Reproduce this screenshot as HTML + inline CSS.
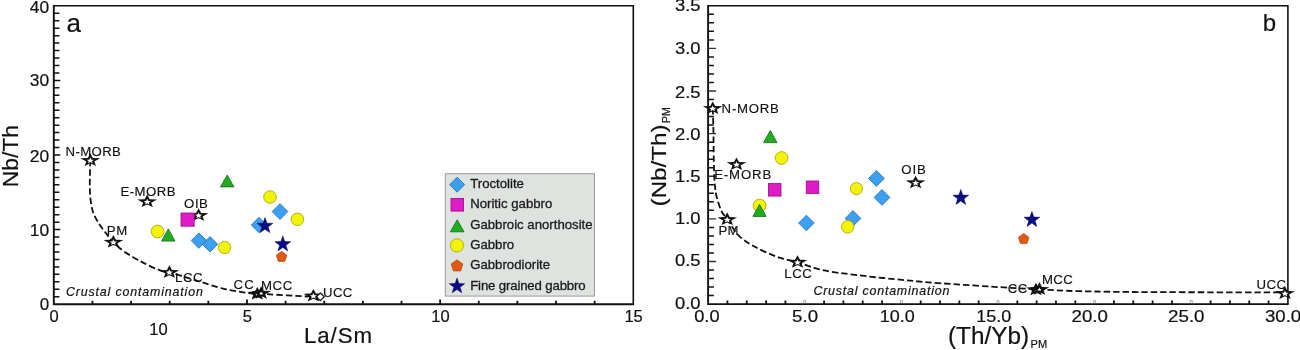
<!DOCTYPE html>
<html><head><meta charset="utf-8"><style>
html,body{margin:0;padding:0;background:#fff;}
body{width:1300px;height:350px;overflow:hidden;font-family:"Liberation Sans",sans-serif;}
svg{display:block;will-change:transform;}
</style></head><body>
<svg width="1300" height="350" viewBox="0 0 1300 350" font-family="Liberation Sans, sans-serif">
<rect width="1300" height="350" fill="#fff"/>
<path d="M53.8,5.8 H633.3 V304.2" fill="none" stroke="#111" stroke-width="1.6"/>
<path d="M53.8,5.1 V304.2 H634.1" fill="none" stroke="#111" stroke-width="1.9"/>
<path d="M53.8,296.74 h5.6 M53.8,289.28 h5.6 M53.8,281.82 h5.6 M53.8,274.36 h5.6 M53.8,266.9 h5.6 M53.8,259.44 h5.6 M53.8,251.98 h5.6 M53.8,244.52 h5.6 M53.8,237.06 h5.6 M53.8,229.6 h6.5 M53.8,222.14 h5.6 M53.8,214.68 h5.6 M53.8,207.22 h5.6 M53.8,199.76 h5.6 M53.8,192.3 h5.6 M53.8,184.84 h5.6 M53.8,177.38 h5.6 M53.8,169.92 h5.6 M53.8,162.46 h5.6 M53.8,155 h6.5 M53.8,147.54 h5.6 M53.8,140.08 h5.6 M53.8,132.62 h5.6 M53.8,125.16 h5.6 M53.8,117.7 h5.6 M53.8,110.24 h5.6 M53.8,102.78 h5.6 M53.8,95.32 h5.6 M53.8,87.86 h5.6 M53.8,80.4 h6.5 M53.8,72.94 h5.6 M53.8,65.48 h5.6 M53.8,58.02 h5.6 M53.8,50.56 h5.6 M53.8,43.1 h5.6 M53.8,35.64 h5.6 M53.8,28.18 h5.6 M53.8,20.72 h5.6 M53.8,13.26 h5.6" stroke="#111" stroke-width="1.5"/>
<path d="M92.43,304.2 v-3.5 M131.07,304.2 v-3.5 M169.7,304.2 v-3.5 M208.33,304.2 v-3.5 M246.97,304.2 v-4.6 M285.6,304.2 v-3.5 M324.23,304.2 v-3.5 M362.87,304.2 v-3.5 M401.5,304.2 v-3.5 M440.13,304.2 v-4.6 M478.77,304.2 v-3.5 M517.4,304.2 v-3.5 M556.03,304.2 v-3.5 M594.67,304.2 v-3.5" stroke="#111" stroke-width="1.8"/>
<text x="49.2" y="12.9" font-size="17" text-anchor="end" textLength="19.4" lengthAdjust="spacingAndGlyphs" fill="#111" stroke="#111" stroke-width="0.2">40</text>
<text x="49.2" y="86.2" font-size="17" text-anchor="end" textLength="19.4" lengthAdjust="spacingAndGlyphs" fill="#111" stroke="#111" stroke-width="0.2">30</text>
<text x="49.2" y="161.7" font-size="17" text-anchor="end" textLength="19.4" lengthAdjust="spacingAndGlyphs" fill="#111" stroke="#111" stroke-width="0.2">20</text>
<text x="49.2" y="235.8" font-size="17" text-anchor="end" textLength="19.4" lengthAdjust="spacingAndGlyphs" fill="#111" stroke="#111" stroke-width="0.2">10</text>
<text x="49.2" y="309.9" font-size="17" text-anchor="end" fill="#111" stroke="#111" stroke-width="0.2">0</text>
<text x="54.1" y="321.8" font-size="16.5" text-anchor="middle" fill="#111" stroke="#111" stroke-width="0.2">0</text>
<text x="247.27" y="321.8" font-size="16.5" text-anchor="middle" fill="#111" stroke="#111" stroke-width="0.2">5</text>
<text x="440.43" y="321.8" font-size="16.5" text-anchor="middle" fill="#111" stroke="#111" stroke-width="0.2">10</text>
<text x="633.6" y="321.8" font-size="16.5" text-anchor="middle" fill="#111" stroke="#111" stroke-width="0.2">15</text>
<text x="158.4" y="334.8" font-size="16.5" text-anchor="middle" fill="#111" stroke="#111" stroke-width="0.2">10</text>
<text x="303.9" y="343.1" font-size="22.3" textLength="68.2" lengthAdjust="spacing" fill="#111" stroke="#111" stroke-width="0.2">La/Sm</text>
<text transform="translate(18.2,187.2) rotate(-90)" font-size="21.5" fill="#111" stroke="#111" stroke-width="0.2" textLength="62.2" lengthAdjust="spacingAndGlyphs">Nb/Th</text>
<text x="66.6" y="31.8" font-size="26" fill="#111" stroke="#111" stroke-width="0.2">a</text>
<path d="M90.3,160 C90.22,164.17 89.75,178.33 89.8,185 C89.85,191.67 90.07,195.5 90.6,200 C91.13,204.5 91.77,208.33 93,212 C94.23,215.67 96,218.67 98,222 C100,225.33 102.43,228.67 105,232 C107.57,235.33 110.23,238.77 113.4,242 C116.57,245.23 119.07,247.97 124,251.4 C128.93,254.83 137,259.45 143,262.6 C149,265.75 155.6,268.68 160,270.3 C164.4,271.92 165.07,271.13 169.4,272.3 C173.73,273.47 180.57,275.63 186,277.3 C191.43,278.97 195.83,280.42 202,282.3 C208.17,284.18 215.83,286.88 223,288.6 C230.17,290.32 239.33,291.77 245,292.6 C250.67,293.43 252.83,293.3 257,293.6 C261.17,293.9 262.58,293.98 270,294.4 C277.42,294.82 293.17,295.67 301.5,296.1 C309.83,296.53 316.92,296.85 320,297" fill="none" stroke="#111" stroke-width="1.8" stroke-dasharray="6.4,3"/>
<polygon points="90.3,153.4 92.8,158 100.2,158.3 94.3,161.5 96,165.9 90.3,163.3 84.6,165.9 86.3,161.5 80.4,158.3 87.8,158" fill="#111"/>
<polygon points="90.3,157.6 91.35,159.7 93.9,159.85 91.9,161.2 92.6,163.3 90.3,162.1 88,163.3 88.7,161.2 86.7,159.85 89.25,159.7" fill="#fff"/>
<polygon points="147.2,194.6 149.7,199.2 157.1,199.5 151.2,202.7 152.9,207.1 147.2,204.5 141.5,207.1 143.2,202.7 137.3,199.5 144.7,199.2" fill="#111"/>
<polygon points="147.2,198.8 148.25,200.9 150.8,201.05 148.8,202.4 149.5,204.5 147.2,203.3 144.9,204.5 145.6,202.4 143.6,201.05 146.15,200.9" fill="#fff"/>
<polygon points="113.4,235.1 115.9,239.7 123.3,240 117.4,243.2 119.1,247.6 113.4,245 107.7,247.6 109.4,243.2 103.5,240 110.9,239.7" fill="#111"/>
<polygon points="113.4,239.3 114.45,241.4 117,241.55 115,242.9 115.7,245 113.4,243.8 111.1,245 111.8,242.9 109.8,241.55 112.35,241.4" fill="#fff"/>
<polygon points="169.4,265.3 171.9,269.9 179.3,270.2 173.4,273.4 175.1,277.8 169.4,275.2 163.7,277.8 165.4,273.4 159.5,270.2 166.9,269.9" fill="#111"/>
<polygon points="169.4,269.5 170.45,271.6 173,271.75 171,273.1 171.7,275.2 169.4,274 167.1,275.2 167.8,273.1 165.8,271.75 168.35,271.6" fill="#fff"/>
<polygon points="257.3,287 259.8,291.6 267.2,291.9 261.3,295.1 263,299.5 257.3,296.9 251.6,299.5 253.3,295.1 247.4,291.9 254.8,291.6" fill="#111"/>
<polygon points="257.3,292.4 257.93,293.66 259.46,293.75 258.26,294.56 258.68,295.82 257.3,295.1 255.92,295.82 256.34,294.56 255.14,293.75 256.67,293.66" fill="#fff"/>
<polygon points="261.2,286.2 263.7,290.8 271.1,291.1 265.2,294.3 266.9,298.7 261.2,296.1 255.5,298.7 257.2,294.3 251.3,291.1 258.7,290.8" fill="#111"/>
<polygon points="261.2,291.6 261.83,292.86 263.36,292.95 262.16,293.76 262.58,295.02 261.2,294.3 259.82,295.02 260.24,293.76 259.04,292.95 260.57,292.86" fill="#fff"/>
<polygon points="313.4,288.9 315.9,293.5 323.3,293.8 317.4,297 319.1,301.4 313.4,298.8 307.7,301.4 309.4,297 303.5,293.8 310.9,293.5" fill="#111"/>
<polygon points="313.4,293.1 314.45,295.2 317,295.35 315,296.7 315.7,298.8 313.4,297.6 311.1,298.8 311.8,296.7 309.8,295.35 312.35,295.2" fill="#fff"/>
<polygon points="316.4,296.7 320.3,293.1 324.2,296.7 320.3,300.6" fill="#fff" stroke="#111" stroke-width="1.2"/>
<polygon points="198.6,208.3 201.1,212.9 208.5,213.2 202.6,216.4 204.3,220.8 198.6,218.2 192.9,220.8 194.6,216.4 188.7,213.2 196.1,212.9" fill="#111"/>
<polygon points="198.6,212.5 199.65,214.6 202.2,214.75 200.2,216.1 200.9,218.2 198.6,217 196.3,218.2 197,216.1 195,214.75 197.55,214.6" fill="#fff"/>
<text x="65.5" y="155.8" font-size="13.2" textLength="55.4" lengthAdjust="spacing" fill="#111" stroke="#111" stroke-width="0.15">N-MORB</text>
<text x="120.4" y="196.1" font-size="13.2" textLength="55.2" lengthAdjust="spacing" fill="#111" stroke="#111" stroke-width="0.15">E-MORB</text>
<text x="184.1" y="207.7" font-size="13.2" textLength="23.8" lengthAdjust="spacing" fill="#111" stroke="#111" stroke-width="0.15">OIB</text>
<text x="106.7" y="234.6" font-size="13.2" textLength="20.6" lengthAdjust="spacing" fill="#111" stroke="#111" stroke-width="0.15">PM</text>
<text x="174.9" y="281.8" font-size="13.2" textLength="27.7" lengthAdjust="spacing" fill="#111" stroke="#111" stroke-width="0.15">LCC</text>
<text x="233.6" y="289.3" font-size="13.2" textLength="20.1" lengthAdjust="spacing" fill="#111" stroke="#111" stroke-width="0.15">CC</text>
<text x="261.1" y="289.8" font-size="13.2" textLength="31.1" lengthAdjust="spacing" fill="#111" stroke="#111" stroke-width="0.15">MCC</text>
<text x="323.1" y="296.8" font-size="13.2" textLength="29.2" lengthAdjust="spacing" fill="#111" stroke="#111" stroke-width="0.15">UCC</text>
<text x="65.9" y="296" font-size="12.4" textLength="136.9" lengthAdjust="spacing" font-style="italic" fill="#111" stroke="#111" stroke-width="0.2">Crustal contamination</text>
<rect x="181" y="213" width="13.2" height="13.2" fill="#e01cc6" stroke="#9a0a86" stroke-width="0.8"/>
<polygon points="227.2,175.1 233.95,186.9 220.45,186.9" fill="#21ad21" stroke="#0e6a0e" stroke-width="0.8"/>
<polygon points="168.3,228.9 175,241.1 161.6,241.1" fill="#21ad21" stroke="#0e6a0e" stroke-width="0.8"/>
<circle cx="157.6" cy="231.5" r="6.4" fill="#f3f30a" stroke="#a3a000" stroke-width="0.8"/>
<circle cx="224.6" cy="247.5" r="6.2" fill="#f3f30a" stroke="#a3a000" stroke-width="0.8"/>
<circle cx="270" cy="197" r="6.3" fill="#f3f30a" stroke="#a3a000" stroke-width="0.8"/>
<circle cx="297.4" cy="219.3" r="6.3" fill="#f3f30a" stroke="#a3a000" stroke-width="0.8"/>
<polygon points="191.2,240.6 198.9,232.9 206.6,240.6 198.9,248.3" fill="#3c9ff0" stroke="#1d6db5" stroke-width="0.8"/>
<polygon points="202.3,244.3 210,236.6 217.7,244.3 210,252" fill="#3c9ff0" stroke="#1d6db5" stroke-width="0.8"/>
<polygon points="272.1,211.6 280,203.7 287.9,211.6 280,219.5" fill="#3c9ff0" stroke="#1d6db5" stroke-width="0.8"/>
<polygon points="251.3,225 259,217.3 266.7,225 259,232.7" fill="#3c9ff0" stroke="#1d6db5" stroke-width="0.8"/>
<polygon points="265,217.6 266.95,223.21 272.89,223.34 268.16,226.93 269.88,232.61 265,229.22 260.12,232.61 261.84,226.93 257.11,223.34 263.05,223.21" fill="#0b0b86" stroke="#02024a" stroke-width="0.5"/>
<polygon points="282.8,235.9 284.75,241.51 290.69,241.64 285.96,245.23 287.68,250.91 282.8,247.52 277.92,250.91 279.64,245.23 274.91,241.64 280.85,241.51" fill="#0b0b86" stroke="#02024a" stroke-width="0.5"/>
<polygon points="281.6,251.3 286.93,255.17 284.89,261.43 278.31,261.43 276.27,255.17" fill="#e25a12" stroke="#a5400c" stroke-width="0.6"/>
<rect x="445.3" y="173.7" width="149.2" height="122.4" fill="#dfe3e0" stroke="#9a9a9a" stroke-width="1"/>
<polygon points="449.6,184.7 457.1,177.2 464.6,184.7 457.1,192.2" fill="#3c9ff0" stroke="#1d6db5" stroke-width="0.8"/>
<rect x="451" y="198.5" width="12.6" height="12.6" fill="#e01cc6" stroke="#9a0a86" stroke-width="0.8"/>
<polygon points="457.2,219.8 464,231.8 450.4,231.8" fill="#21ad21" stroke="#0e6a0e" stroke-width="0.8"/>
<circle cx="457" cy="245.4" r="6.6" fill="#f3f30a" stroke="#a3a000" stroke-width="0.8"/>
<polygon points="457,259.8 462.9,264.08 460.64,271.02 453.36,271.02 451.1,264.08" fill="#e25a12" stroke="#a5400c" stroke-width="0.6"/>
<polygon points="457,278.1 458.9,283.58 464.7,283.7 460.08,287.2 461.76,292.75 457,289.44 452.24,292.75 453.92,287.2 449.3,283.7 455.1,283.58" fill="#0b0b86" stroke="#02024a" stroke-width="0.5"/>
<text x="470.2" y="187.8" font-size="13.2" fill="#1a1a1a" stroke="#1a1a1a" stroke-width="0.3">Troctolite</text>
<text x="470.2" y="208.17" font-size="13.2" fill="#1a1a1a" stroke="#1a1a1a" stroke-width="0.3">Noritic gabbro</text>
<text x="470.2" y="228.54" font-size="13.2" fill="#1a1a1a" stroke="#1a1a1a" stroke-width="0.3">Gabbroic anorthosite</text>
<text x="470.2" y="248.91" font-size="13.2" fill="#1a1a1a" stroke="#1a1a1a" stroke-width="0.3">Gabbro</text>
<text x="470.2" y="269.28" font-size="13.2" fill="#1a1a1a" stroke="#1a1a1a" stroke-width="0.3">Gabbrodiorite</text>
<text x="470.2" y="289.65" font-size="13.2" textLength="115.4" lengthAdjust="spacing" fill="#1a1a1a" stroke="#1a1a1a" stroke-width="0.3">Fine grained gabbro</text>
<path d="M708.1,5.8 H1287.9 V304.1" fill="none" stroke="#111" stroke-width="1.6"/>
<path d="M708.1,5.1 V304.1 H1288.7" fill="none" stroke="#111" stroke-width="1.9"/>
<path d="M708.1,295.58 h5.8 M708.1,287.05 h5.8 M708.1,278.53 h5.8 M708.1,270.01 h5.8 M708.1,252.96 h5.8 M708.1,244.44 h5.8 M708.1,235.92 h5.8 M708.1,227.39 h5.8 M708.1,210.35 h5.8 M708.1,201.83 h5.8 M708.1,193.3 h5.8 M708.1,184.78 h5.8 M708.1,167.73 h5.8 M708.1,159.21 h5.8 M708.1,150.69 h5.8 M708.1,142.17 h5.8 M708.1,125.12 h5.8 M708.1,116.6 h5.8 M708.1,108.07 h5.8 M708.1,99.55 h5.8 M708.1,82.51 h5.8 M708.1,73.98 h5.8 M708.1,65.46 h5.8 M708.1,56.94 h5.8 M708.1,39.89 h5.8 M708.1,31.37 h5.8 M708.1,22.85 h5.8 M708.1,14.32 h5.8" stroke="#111" stroke-width="1.5"/>
<path d="M708.1,261.49 h8 M708.1,218.87 h8 M708.1,176.26 h8 M708.1,133.64 h8 M708.1,91.03 h8 M708.1,48.41 h8" stroke="#333" stroke-width="1.4"/>
<path d="M727.43,304.1 v-3.6 M746.75,304.1 v-3.6 M766.08,304.1 v-3.6 M785.41,304.1 v-3.6 M824.06,304.1 v-3.6 M843.39,304.1 v-3.6 M862.71,304.1 v-3.6 M882.04,304.1 v-3.6 M920.69,304.1 v-3.6 M940.02,304.1 v-3.6 M959.35,304.1 v-3.6 M978.67,304.1 v-3.6 M1017.33,304.1 v-3.6 M1036.65,304.1 v-3.6 M1055.98,304.1 v-3.6 M1075.31,304.1 v-3.6 M1113.96,304.1 v-3.6 M1133.29,304.1 v-3.6 M1152.61,304.1 v-3.6 M1171.94,304.1 v-3.6 M1210.59,304.1 v-3.6 M1229.92,304.1 v-3.6 M1249.25,304.1 v-3.6 M1268.57,304.1 v-3.6" stroke="#111" stroke-width="1.8"/>
<path d="M803.73,303.1 v-2.6 h2 v2.6 M900.37,303.1 v-2.6 h2 v2.6 M997,303.1 v-2.6 h2 v2.6 M1093.63,303.1 v-2.6 h2 v2.6 M1190.27,303.1 v-2.6 h2 v2.6" fill="none" stroke="#888" stroke-width="0.7"/>
<text x="700.6" y="308.8" font-size="17" text-anchor="end" textLength="25.6" lengthAdjust="spacingAndGlyphs" fill="#111" stroke="#111" stroke-width="0.2">0.0</text>
<text x="700.6" y="265.9" font-size="17" text-anchor="end" textLength="25.6" lengthAdjust="spacingAndGlyphs" fill="#111" stroke="#111" stroke-width="0.2">0.5</text>
<text x="700.6" y="224.1" font-size="17" text-anchor="end" textLength="25.6" lengthAdjust="spacingAndGlyphs" fill="#111" stroke="#111" stroke-width="0.2">1.0</text>
<text x="700.6" y="182.2" font-size="17" text-anchor="end" textLength="25.6" lengthAdjust="spacingAndGlyphs" fill="#111" stroke="#111" stroke-width="0.2">1.5</text>
<text x="700.6" y="140.2" font-size="17" text-anchor="end" textLength="25.6" lengthAdjust="spacingAndGlyphs" fill="#111" stroke="#111" stroke-width="0.2">2.0</text>
<text x="700.6" y="97.5" font-size="17" text-anchor="end" textLength="25.6" lengthAdjust="spacingAndGlyphs" fill="#111" stroke="#111" stroke-width="0.2">2.5</text>
<text x="700.6" y="54.4" font-size="17" text-anchor="end" textLength="25.6" lengthAdjust="spacingAndGlyphs" fill="#111" stroke="#111" stroke-width="0.2">3.0</text>
<text x="700.6" y="11.2" font-size="17" text-anchor="end" textLength="25.6" lengthAdjust="spacingAndGlyphs" fill="#111" stroke="#111" stroke-width="0.2">3.5</text>
<text x="719.6" y="321.9" font-size="16.5" text-anchor="end" textLength="25.4" lengthAdjust="spacingAndGlyphs" fill="#111" stroke="#111" stroke-width="0.2">0.0</text>
<text x="818.03" y="321.9" font-size="16.5" text-anchor="end" textLength="25.9" lengthAdjust="spacingAndGlyphs" fill="#111" stroke="#111" stroke-width="0.2">5.0</text>
<text x="914.67" y="321.9" font-size="16.5" text-anchor="end" textLength="35" lengthAdjust="spacingAndGlyphs" fill="#111" stroke="#111" stroke-width="0.2">10.0</text>
<text x="1011.3" y="321.9" font-size="16.5" text-anchor="end" textLength="35" lengthAdjust="spacingAndGlyphs" fill="#111" stroke="#111" stroke-width="0.2">15.0</text>
<text x="1107.93" y="321.9" font-size="16.5" text-anchor="end" textLength="36.4" lengthAdjust="spacingAndGlyphs" fill="#111" stroke="#111" stroke-width="0.2">20.0</text>
<text x="1204.57" y="321.9" font-size="16.5" text-anchor="end" textLength="36.5" lengthAdjust="spacingAndGlyphs" fill="#111" stroke="#111" stroke-width="0.2">25.0</text>
<text x="1301.2" y="321.9" font-size="16.5" text-anchor="end" textLength="36.3" lengthAdjust="spacingAndGlyphs" fill="#111" stroke="#111" stroke-width="0.2">30.0</text>
<text x="948" y="343.8" font-size="23.5" textLength="81" lengthAdjust="spacingAndGlyphs" fill="#111" stroke="#111" stroke-width="0.2">(Th/Yb)</text>
<text x="1030.5" y="347.7" font-size="11" textLength="16.6" lengthAdjust="spacingAndGlyphs" fill="#111" stroke="#111" stroke-width="0.2">PM</text>
<text transform="translate(665.6,206.4) rotate(-90)" font-size="21" fill="#111" stroke="#111" stroke-width="0.2" textLength="82" lengthAdjust="spacingAndGlyphs">(Nb/Th)</text>
<text transform="translate(670.2,123) rotate(-90)" font-size="11.5" fill="#111" stroke="#111" stroke-width="0.15" textLength="16" lengthAdjust="spacingAndGlyphs">PM</text>
<text x="1262.8" y="31.2" font-size="24" fill="#111" stroke="#111" stroke-width="0.2">b</text>
<path d="M712.8,108.3 C712.9,111.92 713.23,121.38 713.4,130 C713.57,138.62 713.6,151.33 713.8,160 C714,168.67 714.13,175.92 714.6,182 C715.07,188.08 715.43,191.58 716.6,196.5 C717.77,201.42 719.78,207.68 721.6,211.5 C723.42,215.32 724.72,215.47 727.5,219.4 C730.28,223.33 733.83,230.58 738.3,235.1 C742.77,239.62 747.83,242.88 754.3,246.5 C760.77,250.12 769.9,254.17 777.1,256.8 C784.3,259.43 789.88,260.07 797.5,262.3 C805.12,264.53 812.88,268.07 822.8,270.2 C832.72,272.33 844.13,273.52 857,275.1 C869.87,276.68 885.92,278.33 900,279.7 C914.08,281.07 923.42,281.97 941.5,283.3 C959.58,284.63 992.42,286.7 1008.5,287.7 C1024.58,288.7 1026.08,288.72 1038,289.3 C1049.92,289.88 1061.33,290.73 1080,291.2 C1098.67,291.67 1115.83,291.9 1150,292.1 C1184.17,292.3 1262.5,292.35 1285,292.4" fill="none" stroke="#111" stroke-width="1.8" stroke-dasharray="6.4,3"/>
<polygon points="712.7,101.4 715.2,106 722.6,106.3 716.7,109.5 718.4,113.9 712.7,111.3 707,113.9 708.7,109.5 702.8,106.3 710.2,106" fill="#111"/>
<polygon points="712.7,105.6 713.75,107.7 716.3,107.85 714.3,109.2 715,111.3 712.7,110.1 710.4,111.3 711.1,109.2 709.1,107.85 711.65,107.7" fill="#fff"/>
<polygon points="736.5,157.4 739,162 746.4,162.3 740.5,165.5 742.2,169.9 736.5,167.3 730.8,169.9 732.5,165.5 726.6,162.3 734,162" fill="#111"/>
<polygon points="736.5,161.6 737.55,163.7 740.1,163.85 738.1,165.2 738.8,167.3 736.5,166.1 734.2,167.3 734.9,165.2 732.9,163.85 735.45,163.7" fill="#fff"/>
<polygon points="727.2,212.5 729.7,217.1 737.1,217.4 731.2,220.6 732.9,225 727.2,222.4 721.5,225 723.2,220.6 717.3,217.4 724.7,217.1" fill="#111"/>
<polygon points="727.2,216.7 728.25,218.8 730.8,218.95 728.8,220.3 729.5,222.4 727.2,221.2 724.9,222.4 725.6,220.3 723.6,218.95 726.15,218.8" fill="#fff"/>
<polygon points="797.5,255.2 800,259.8 807.4,260.1 801.5,263.3 803.2,267.7 797.5,265.1 791.8,267.7 793.5,263.3 787.6,260.1 795,259.8" fill="#111"/>
<polygon points="797.5,259.4 798.55,261.5 801.1,261.65 799.1,263 799.8,265.1 797.5,263.9 795.2,265.1 795.9,263 793.9,261.65 796.45,261.5" fill="#fff"/>
<polygon points="915.6,175.7 918.1,180.3 925.5,180.6 919.6,183.8 921.3,188.2 915.6,185.6 909.9,188.2 911.6,183.8 905.7,180.6 913.1,180.3" fill="#111"/>
<polygon points="915.6,179.9 916.65,182 919.2,182.15 917.2,183.5 917.9,185.6 915.6,184.4 913.3,185.6 914,183.5 912,182.15 914.55,182" fill="#fff"/>
<polygon points="1036,282.7 1038.5,287.3 1045.9,287.6 1040,290.8 1041.7,295.2 1036,292.6 1030.3,295.2 1032,290.8 1026.1,287.6 1033.5,287.3" fill="#111"/>
<polygon points="1036,288.1 1036.63,289.36 1038.16,289.45 1036.96,290.26 1037.38,291.52 1036,290.8 1034.62,291.52 1035.04,290.26 1033.84,289.45 1035.37,289.36" fill="#fff"/>
<polygon points="1039.5,282.3 1042,286.9 1049.4,287.2 1043.5,290.4 1045.2,294.8 1039.5,292.2 1033.8,294.8 1035.5,290.4 1029.6,287.2 1037,286.9" fill="#111"/>
<polygon points="1039.5,287.7 1040.13,288.96 1041.66,289.05 1040.46,289.86 1040.88,291.12 1039.5,290.4 1038.12,291.12 1038.54,289.86 1037.34,289.05 1038.87,288.96" fill="#fff"/>
<polygon points="1285,286.4 1287.5,291 1294.9,291.3 1289,294.5 1290.7,298.9 1285,296.3 1279.3,298.9 1281,294.5 1275.1,291.3 1282.5,291" fill="#111"/>
<polygon points="1285,290.6 1286.05,292.7 1288.6,292.85 1286.6,294.2 1287.3,296.3 1285,295.1 1282.7,296.3 1283.4,294.2 1281.4,292.85 1283.95,292.7" fill="#fff"/>
<text x="721.6" y="113.1" font-size="13.2" textLength="57.3" lengthAdjust="spacing" fill="#111" stroke="#111" stroke-width="0.15">N-MORB</text>
<text x="714.2" y="178.6" font-size="13.2" textLength="57.1" lengthAdjust="spacing" fill="#111" stroke="#111" stroke-width="0.15">E-MORB</text>
<text x="901.2" y="174.4" font-size="13.2" textLength="24.7" lengthAdjust="spacing" fill="#111" stroke="#111" stroke-width="0.15">OIB</text>
<text x="718.6" y="234.9" font-size="13.2" textLength="20" lengthAdjust="spacing" fill="#111" stroke="#111" stroke-width="0.15">PM</text>
<text x="784.2" y="277.7" font-size="13.2" textLength="27.6" lengthAdjust="spacing" fill="#111" stroke="#111" stroke-width="0.15">LCC</text>
<text x="1007.7" y="292.8" font-size="13.2" textLength="19.7" lengthAdjust="spacing" fill="#111" stroke="#111" stroke-width="0.15">CC</text>
<text x="1042" y="284.1" font-size="13.2" textLength="30.7" lengthAdjust="spacing" fill="#111" stroke="#111" stroke-width="0.15">MCC</text>
<text x="1256.5" y="288.5" font-size="13.2" textLength="29.5" lengthAdjust="spacing" fill="#111" stroke="#111" stroke-width="0.15">UCC</text>
<text x="813.4" y="294.8" font-size="12.4" textLength="135.9" lengthAdjust="spacing" font-style="italic" fill="#111" stroke="#111" stroke-width="0.2">Crustal contamination</text>
<polygon points="770.3,130.4 777,142.6 763.6,142.6" fill="#21ad21" stroke="#0e6a0e" stroke-width="0.8"/>
<circle cx="781.6" cy="158" r="6.4" fill="#f3f30a" stroke="#a3a000" stroke-width="0.8"/>
<rect x="768.4" y="183.5" width="12.6" height="12.6" fill="#e01cc6" stroke="#9a0a86" stroke-width="0.8"/>
<rect x="806.2" y="181" width="12.6" height="12.6" fill="#e01cc6" stroke="#9a0a86" stroke-width="0.8"/>
<circle cx="759.6" cy="205.6" r="6.4" fill="#f3f30a" stroke="#a3a000" stroke-width="0.8"/>
<polygon points="759.5,204.4 766.1,216.4 752.9,216.4" fill="#21ad21" stroke="#0e6a0e" stroke-width="0.8"/>
<polygon points="798.6,223 806.4,215.2 814.2,223 806.4,230.8" fill="#3c9ff0" stroke="#1d6db5" stroke-width="0.8"/>
<polygon points="868.5,178.4 876.4,170.5 884.3,178.4 876.4,186.3" fill="#3c9ff0" stroke="#1d6db5" stroke-width="0.8"/>
<polygon points="874.1,197.4 882,189.5 889.9,197.4 882,205.3" fill="#3c9ff0" stroke="#1d6db5" stroke-width="0.8"/>
<circle cx="856.4" cy="188.6" r="6.1" fill="#f3f30a" stroke="#a3a000" stroke-width="0.8"/>
<polygon points="845.2,218.4 853,210.6 860.8,218.4 853,226.2" fill="#3c9ff0" stroke="#1d6db5" stroke-width="0.8"/>
<circle cx="847.7" cy="226.8" r="6.3" fill="#f3f30a" stroke="#a3a000" stroke-width="0.8"/>
<polygon points="960.8,189.5 962.75,195.11 968.69,195.24 963.96,198.83 965.68,204.51 960.8,201.12 955.92,204.51 957.64,198.83 952.91,195.24 958.85,195.11" fill="#0b0b86" stroke="#02024a" stroke-width="0.5"/>
<polygon points="1031.9,211.5 1033.85,217.11 1039.79,217.24 1035.06,220.83 1036.78,226.51 1031.9,223.12 1027.02,226.51 1028.74,220.83 1024.01,217.24 1029.95,217.11" fill="#0b0b86" stroke="#02024a" stroke-width="0.5"/>
<polygon points="1023.7,233.4 1029.03,237.27 1026.99,243.53 1020.41,243.53 1018.37,237.27" fill="#e25a12" stroke="#a5400c" stroke-width="0.6"/>
</svg>
</body></html>
